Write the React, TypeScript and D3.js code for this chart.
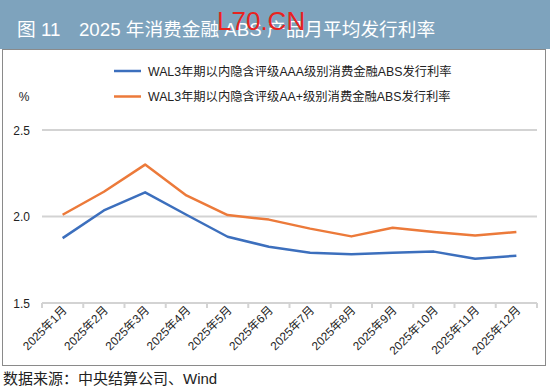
import React from "react";
import * as d3 from "d3";

const categories = ["2025年1月","2025年2月","2025年3月","2025年4月","2025年5月","2025年6月","2025年7月","2025年8月","2025年9月","2025年10月","2025年11月","2025年12月"];
const seriesAAA = [1.875, 2.035, 2.14, 2.01, 1.883, 1.825, 1.79, 1.782, 1.79, 1.797, 1.756, 1.773];
const seriesAAplus = [2.01, 2.143, 2.30, 2.122, 2.008, 1.982, 1.93, 1.885, 1.935, 1.91, 1.89, 1.91];
const yTicks = [1.5, 2.0, 2.5];
const legendLabels = [
  "WAL3年期以内隐含评级AAA级别消费金融ABS发行利率",
  "WAL3年期以内隐含评级AA+级别消费金融ABS发行利率",
];
const colors = ["#3c6fbd", "#ec7a3a"];
const titleText = "图 11　2025 年消费金融 ABS 产品月平均发行利率";
const sourceText = "数据来源：中央结算公司、Wind";

const FONT = "'Liberation Sans', 'Noto Sans CJK SC', sans-serif";

export default function App() {
  const W = 550, H = 387;
  const x0 = 42, x1 = 537;
  const x = d3.scaleBand().domain(categories).range([x0, x1]);
  const y = d3.scaleLinear().domain([1.5, 2.5]).range([303, 130]);
  const line = d3.line<number>()
    .x((_, i) => (x(categories[i]) as number) + x.bandwidth() / 2)
    .y((d) => y(d));
  const series = [seriesAAA, seriesAAplus];
  const boundaries = categories.map((c) => x(c) as number).concat([x1]);
  return (
    <svg width={W} height={H} style={{ position: "absolute", left: 0, top: 0, background: "#fff" }} fontFamily={FONT}>
      <rect x={0} y={0} width={W} height={49} fill="#7ea3bd" />
      <text x={17} y={36} fill="#fff" fontSize={18.7} fontFamily={FONT}>{titleText}</text>
      <text x={217} y={30} fill="#e8231f" fontSize={26} fontFamily="'Liberation Sans', sans-serif">L70.CN</text>
      <rect x={2.5} y={49.5} width={543} height={316} fill="none" stroke="#8a8a8a" strokeWidth={1} />
      {yTicks.map((t) => (
        <g key={t}>
          <line x1={x0} x2={x1} y1={y(t)} y2={y(t)} stroke="#d3d3d3" strokeWidth={2} />
          <text x={30} y={y(t) + 4.5} textAnchor="end" fontSize={12} fill="#222">{t.toFixed(1)}</text>
        </g>
      ))}
      <text x={24} y={101} fontSize={12} fill="#222" textAnchor="middle">%</text>
      {boundaries.map((b, i) => (
        <line key={i} x1={b} x2={b} y1={303} y2={308} stroke="#d3d3d3" strokeWidth={2} />
      ))}
      {categories.map((c) => {
        const cx = (x(c) as number) + x.bandwidth() / 2 + 5;
        const cy = 311;
        return (
          <text key={c} transform={`translate(${cx},${cy}) rotate(-45)`} textAnchor="end" fontSize={11.8} fill="#222">{c}</text>
        );
      })}
      {series.map((s, i) => (
        <path key={i} d={line(s) || ""} fill="none" stroke={colors[i]} strokeWidth={2.5} strokeLinejoin="round" />
      ))}
      {legendLabels.map((l, i) => (
        <g key={l}>
          <line x1={114} x2={141} y1={71 + i * 25.5} y2={71 + i * 25.5} stroke={colors[i]} strokeWidth={2.5} />
          <text x={148} y={75.5 + i * 25.5} fontSize={12.3} fill="#222">{l}</text>
        </g>
      ))}
      <text x={3} y={384} fontSize={15} fill="#222">{sourceText}</text>
    </svg>
  );
}
